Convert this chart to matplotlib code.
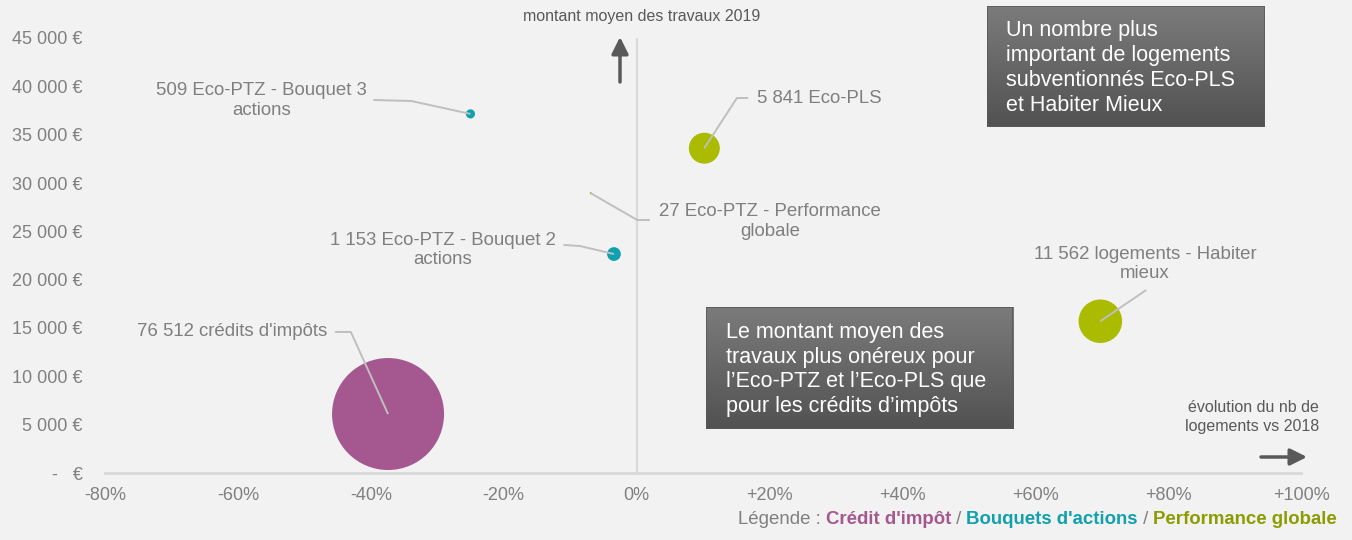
import matplotlib
matplotlib.use("Agg")
import matplotlib.pyplot as plt
import numpy as np
from matplotlib.colors import LinearSegmentedColormap
from matplotlib.offsetbox import TextArea, HPacker, AnchoredOffsetbox
from matplotlib.patches import Rectangle

plt.rcParams['font.family'] = ['Liberation Sans', 'DejaVu Sans']

# ---------------- data ----------------
labels = ["76 512 crédits d'impôts",
          "509 Eco-PTZ - Bouquet 3\nactions",
          "1 153 Eco-PTZ - Bouquet 2\nactions",
          "27 Eco-PTZ - Performance\nglobale",
          "5 841 Eco-PLS",
          "11 562 logements - Habiter\nmieux"]
counts = [76512, 509, 1153, 27, 5841, 11562]
evolution = [-37.4, -25.0, -3.4, -6.9, 10.2, 69.8]          # % vs 2018
montant = [6100, 37150, 22650, 28950, 33600, 15700]        # € 2019
groups = ["credit", "bouquet", "bouquet", "perf", "perf", "perf"]

x_ticks = [-80, -60, -40, -20, 0, 20, 40, 60, 80, 100]
x_ticklabels = ["-80%", "-60%", "-40%", "-20%", "0%", "+20%", "+40%", "+60%", "+80%", "+100%"]
y_ticks = [0, 5000, 10000, 15000, 20000, 25000, 30000, 35000, 40000, 45000]
y_ticklabels = ["-   €", "5 000 €", "10 000 €", "15 000 €", "20 000 €", "25 000 €",
                "30 000 €", "35 000 €", "40 000 €", "45 000 €"]

colors = {"credit": "#a5588f", "bouquet": "#10a0ae", "perf": "#aabb00"}
legend_colors = {"credit": "#a5588f", "bouquet": "#10a0ae", "perf": "#8c9c00"}

# label placement (data coords) and leader line waypoints
label_pos = [(-46.6, 14590), (-56.4, 38540), (-29.2, 23070), (20.1, 26020), (18.1, 38790), (76.5, 21620)]
label_ha = ["right", "center", "center", "center", "left", "center"]
leaders = [
    [(-45.4, 14590), (-43.0, 14590)],
    [(-39.6, 38590), (-33.9, 38480)],
    [(-11.0, 23590), (-8.5, 23480)],
    [(2.0, 26170), (0.1, 26170)],
    [(16.8, 38790), (15.1, 38790)],
    [(76.7, 18930)],
]

W, H = 1352, 540
fig = plt.figure(figsize=(W / 100, H / 100), dpi=100)
fig.patch.set_facecolor("#f2f2f2")

def fx(px):
    return px / W

def fy(py):
    return 1 - py / H

ax = fig.add_axes([fx(105), fy(473), fx(1301) - fx(105), fy(38) - fy(473)])
ax.set_facecolor("#f2f2f2")
ax.set_xlim(-80, 100)
ax.set_ylim(0, 45000)
for s in ["top", "right", "left"]:
    ax.spines[s].set_visible(False)
ax.spines["bottom"].set_color("#d9d9d9")
ax.spines["bottom"].set_linewidth(2)
ax.axvline(0, color="#d9d9d9", lw=1.5, zorder=1)

ax.set_xticks(x_ticks)
ax.set_xticklabels(x_ticklabels)
ax.set_yticks(y_ticks)
ax.set_yticklabels(y_ticklabels)
ax.tick_params(axis="both", length=0, labelsize=13, labelcolor="#808080")
ax.tick_params(axis="y", pad=16)
ax.tick_params(axis="x", pad=10)

# bubbles: area proportional to count
scale = 6500 / 76512
sizes = [c * scale for c in counts]
ax.scatter(evolution, montant, s=sizes, c=[colors[g] for g in groups],
           linewidths=0, zorder=3)

# leaders and labels
for i in range(len(labels)):
    pts = leaders[i] + [(evolution[i], montant[i])]
    xs = [p[0] for p in pts]
    ys = [p[1] for p in pts]
    ax.plot(xs, ys, color="#bfbfbf", lw=1.4, zorder=4, solid_capstyle="butt")
    ax.text(label_pos[i][0], label_pos[i][1], labels[i], ha=label_ha[i], va="center",
            multialignment="center", fontsize=13.4, color="#7f7f7f", linespacing=1.22, zorder=5)

# axis titles and arrows
fig.text(fx(642), fy(17), "montant moyen des travaux 2019", ha="center", va="center",
         fontsize=11.5, color="#595959")
fig.text(fx(1319), fy(417), "évolution du nb de\nlogements vs 2018", ha="right", va="center",
         multialignment="right", fontsize=11.5, color="#595959", linespacing=1.32)
ax.annotate("", xy=(fx(620), fy(37)), xytext=(fx(620), fy(82)), xycoords="figure fraction",
            textcoords="figure fraction",
            arrowprops=dict(arrowstyle="-|>,head_length=1.0,head_width=0.5", color="#595959", lw=2.5,
                            shrinkA=0, shrinkB=0))
ax.annotate("", xy=(fx(1307), fy(457)), xytext=(fx(1261), fy(457)), xycoords="figure fraction",
            textcoords="figure fraction",
            arrowprops=dict(arrowstyle="-|>,head_length=1.0,head_width=0.5", color="#595959", lw=2.5,
                            shrinkA=0, shrinkB=0))

# gradient boxes
cmap = LinearSegmentedColormap.from_list("g", ["#7b7b7b", "#525252"])
grad = np.linspace(0, 1, 100).reshape(-1, 1)

def textbox(x0, y0, x1, y1, text, tx):
    bax = fig.add_axes([fx(x0), fy(y1), fx(x1) - fx(x0), fy(y0) - fy(y1)])
    bax.imshow(grad, aspect="auto", cmap=cmap, extent=[0, 1, 0, 1], origin="upper")
    bax.set_xlim(0, 1)
    bax.set_ylim(0, 1)
    bax.axis("off")
    bax.add_patch(Rectangle((0, 0), 1, 1, transform=bax.transAxes, fill=False,
                            edgecolor="#5a5a5a", lw=1.2))
    fig.text(fx(tx), fy((y0 + y1) / 2 + 1.5), text, ha="left", va="center", color="white",
             fontsize=15.5, linespacing=1.23)

textbox(987, 6, 1265, 127, "Un nombre plus\nimportant de logements\nsubventionnés Eco-PLS\net Habiter Mieux", 1006)
textbox(706, 307, 1013, 429, "Le montant moyen des\ntravaux plus onéreux pour\nl’Eco-PTZ et l’Eco-PLS que\npour les crédits d’impôts", 726)

# legend line
parts = [("Légende : ", "#7f7f7f", "normal"),
         ("Crédit d'impôt", legend_colors["credit"], "bold"),
         (" / ", "#7f7f7f", "normal"),
         ("Bouquets d'actions", legend_colors["bouquet"], "bold"),
         (" / ", "#7f7f7f", "normal"),
         ("Performance globale", legend_colors["perf"], "bold")]
areas = [TextArea(t, textprops=dict(color=c, fontweight=w, fontsize=13.4)) for t, c, w in parts]
pack = HPacker(children=areas, pad=0, sep=0, align="baseline")
anch = AnchoredOffsetbox(loc="center right", child=pack, pad=0, borderpad=0, frameon=False,
                         bbox_to_anchor=(fx(1337), fy(520)), bbox_transform=fig.transFigure)
ax.add_artist(anch)

fig.savefig("out.png", dpi=100, facecolor=fig.get_facecolor())
